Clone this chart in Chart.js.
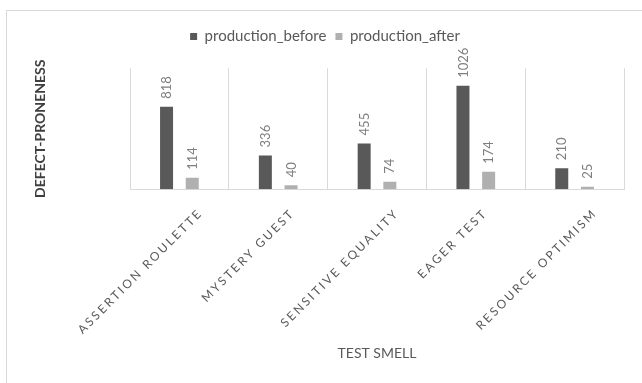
<!DOCTYPE html>
<html>
<head>
<meta charset="utf-8">
<title>Defect-proneness by test smell</title>
<script src="https://cdn.jsdelivr.net/npm/chart.js@4/dist/chart.umd.min.js"></script>
<style>
  html, body { margin: 0; padding: 0; background: #fff; overflow: hidden; width: 642px; height: 383px; }
  #frame { position: absolute; left: 6px; top: 10px; width: 700px; height: 420px; border: 1px solid #d9d9d9; box-sizing: border-box; }
  #c { position: absolute; left: 0; top: 0; }
</style>
</head>
<body>
<div id="frame"></div>
<canvas id="c" width="642" height="383"></canvas>
<script>
// Test smells on the category axis
const categories = ['ASSERTION ROULETTE', 'MYSTERY GUEST', 'SENSITIVE EQUALITY', 'EAGER TEST', 'RESOURCE OPTIMISM'];
// Defect-proneness counts per series
const seriesNames = ['production_before', 'production_after'];
const productionBefore = [818, 336, 455, 1026, 210];
const productionAfter = [114, 40, 74, 174, 25];
// Value axis range (axis itself is hidden)
const yMin = 0;
const yMax = 1200;

const FONT = 'Lato';
Chart.defaults.font.family = FONT;

// Gives the legend a fixed height so the plot starts lower
const legendHeight = {
  id: 'legendHeight',
  beforeInit(chart) {
    const legend = chart.legend;
    if (!legend) return;
    const fit = legend.fit;
    legend.fit = function () {
      fit.call(this);
      this.height = 48.3;
    };
  }
};

// Value labels, rotated, sitting above each bar
const valueLabels = {
  id: 'valueLabels',
  afterDatasetsDraw(chart) {
    const ctx = chart.ctx;
    const capH = 9.2;
    ctx.save();
    ctx.font = '13px ' + FONT;
    ctx.fillStyle = '#7f7f7f';
    ctx.textAlign = 'left';
    ctx.textBaseline = 'alphabetic';
    chart.data.datasets.forEach((ds, di) => {
      const meta = chart.getDatasetMeta(di);
      meta.data.forEach((bar, i) => {
        ctx.save();
        ctx.translate(bar.x + capH / 2, bar.y - 8);
        ctx.rotate(-Math.PI / 2);
        ctx.fillText(String(ds.data[i]), 0, 0);
        ctx.restore();
      });
    });
    ctx.restore();
  }
};

// Category names, slanted at 45 degrees under the plot
const categoryLabels = {
  id: 'categoryLabels',
  afterDraw(chart) {
    const ctx = chart.ctx;
    const xScale = chart.scales.x;
    const spacing = 2.4;
    const capH = 8.6;
    const k = Math.SQRT1_2;
    ctx.save();
    ctx.font = '12px ' + FONT;
    ctx.letterSpacing = spacing + 'px';
    ctx.fillStyle = '#595959';
    ctx.textAlign = 'left';
    ctx.textBaseline = 'alphabetic';
    xScale.ticks.forEach((t, i) => {
      const label = categories[i];
      const w = ctx.measureText(label).width - spacing;
      const tipX = xScale.getPixelForTick(i) + 0.15 * w - 9;
      const tipY = chart.chartArea.bottom + 20;
      const bx = tipX + k * capH;
      const by = tipY + k * capH;
      ctx.save();
      ctx.translate(bx - k * w, by + k * w);
      ctx.rotate(-Math.PI / 4);
      ctx.fillText(label, 0, 0);
      ctx.restore();
    });
    ctx.restore();
  }
};

new Chart(document.getElementById('c'), {
  type: 'bar',
  data: {
    labels: categories,
    datasets: [
      {
        label: seriesNames[0],
        data: productionBefore,
        backgroundColor: '#595959',
        categoryPercentage: 0.52,
        barPercentage: 0.506
      },
      {
        label: seriesNames[1],
        data: productionAfter,
        backgroundColor: '#b0b0b0',
        categoryPercentage: 0.52,
        barPercentage: 0.506
      }
    ]
  },
  options: {
    responsive: false,
    animation: false,
    devicePixelRatio: 1,
    layout: { padding: { top: 20, left: 26, right: 18, bottom: 0 } },
    plugins: {
      legend: {
        position: 'top',
        align: 'center',
        labels: {
          boxWidth: 7,
          boxHeight: 7,
          padding: 9,
          color: '#595959',
          font: { size: 15, family: FONT }
        }
      },
      tooltip: { enabled: false }
    },
    scales: {
      x: {
        offset: true,
        grid: { offset: true, color: '#d9d9d9', lineWidth: 1, drawTicks: false },
        border: { display: true, color: '#d9d9d9' },
        ticks: { display: false },
        title: {
          display: true,
          text: 'TEST SMELL',
          color: '#595959',
          font: { size: 14, family: FONT },
          padding: { top: 155.8, bottom: 21.1 }
        }
      },
      y: {
        min: yMin,
        max: yMax,
        grid: { display: false, drawTicks: false },
        border: { display: false },
        ticks: { display: false },
        title: {
          display: true,
          text: 'DEFECT-PRONENESS',
          color: '#404040',
          font: { size: 14, weight: 'bold', family: FONT },
          padding: { top: 5.6, bottom: 81.6 }
        }
      }
    }
  },
  plugins: [legendHeight, valueLabels, categoryLabels]
});
</script>
</body>
</html>
